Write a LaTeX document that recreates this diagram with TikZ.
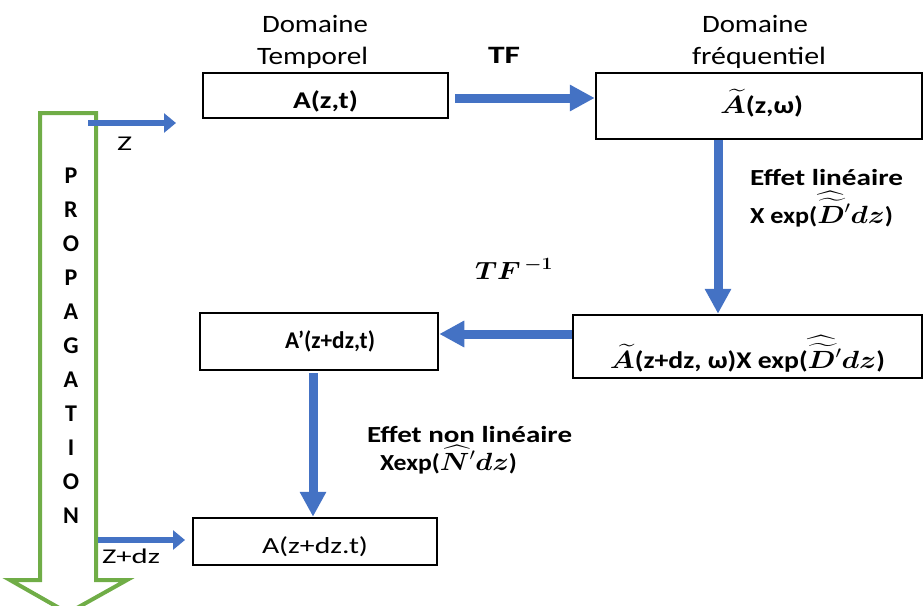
\documentclass[tikz,border=0pt]{standalone}
\usepackage{amsmath,amssymb,bm}
\usepackage{graphicx}
\usepackage{fontspec}
\setmainfont{Carlito}
\usetikzlibrary{arrows.meta}
\definecolor{ablue}{HTML}{4472C4}
\definecolor{agreen}{HTML}{70AD47}
\newcommand{\fw}[2]{\resizebox{#1pt}{\height}{#2}}
\tikzset{
  box/.style={draw=black,line width=2.5pt,inner sep=0pt},
  bigarrow/.style={draw=ablue,line width=9pt,-{Triangle[length=25pt,width=25pt]}},
  smallarrow/.style={draw=ablue,line width=6pt,-{Triangle[length=12pt,width=19pt]}},
  head/.style={anchor=base,inner sep=0pt,font=\fontsize{25}{28}\selectfont},
  btxt/.style={anchor=base,inner sep=0pt,font=\fontsize{24}{28}\selectfont\bfseries},
  rtxt/.style={anchor=base,inner sep=0pt,font=\fontsize{23}{27}\selectfont},
  letter/.style={anchor=base,inner sep=0pt,font=\fontsize{24}{28}\selectfont\bfseries}
}
\begin{document}
\begin{tikzpicture}[x=1pt,y=-1pt]
\useasboundingbox (0,0) rectangle (923,605);
% boxes
\node[box,minimum width=245pt,minimum height=45pt] (b1) at (325.5,95.5) {};
\node[box,minimum width=326pt,minimum height=66pt] (b2) at (759,106) {};
\node[box,minimum width=349pt,minimum height=63pt] (b3) at (747.5,346.5) {};
\node[box,minimum width=238pt,minimum height=57pt] (b4) at (319,341.5) {};
\node[box,minimum width=244pt,minimum height=47pt] (b5) at (315,541.5) {};
% box texts
\node[btxt] (t1) at (325.5,108) {\fw{65}{A(z,t)}};
\node[btxt] (t2) at (761.5,113) {\fw{83}{$\widetilde{\bm{A}}$(z,ω)}};
\node[btxt] (t3) at (747.5,368) {\fw{275}{$\widetilde{\bm{A}}$(z+dz, ω)X exp($\widehat{\widetilde{\bm{D}}}{}^{\prime}\bm{dz}$)}};
\node[btxt] (t4) at (330,348) {\fw{90}{A’(z+dz,t)}};
\node[rtxt] (t5) at (315,553) {\fw{106}{A(z+dz.t)}};
% headings
\node[head] (h1) at (315,32) {\fw{106}{Domaine}};
\node[head] (h2) at (312.5,64) {\fw{111}{Temporel}};
\node[head] (h3) at (755,32) {\fw{106}{Domaine}};
\node[head] (h4) at (759,64) {\fw{134}{fréquentiel}};
\node[btxt,font=\fontsize{25}{28}\selectfont\bfseries] (tf) at (504,63) {\fw{32}{TF}};
\node[btxt,font=\fontsize{26}{30}\selectfont] (tfi) at (514,279) {\fw{78}{$\bm{TF^{\,-1}}$}};
\node[btxt,font=\fontsize{23}{27}\selectfont\bfseries] (e1) at (826.5,185) {\fw{153}{Effet linéaire}};
\node[btxt,font=\fontsize{23}{27}\selectfont\bfseries] (e2) at (821.5,223) {\fw{143}{X exp($\widehat{\widetilde{\bm{D}}}{}^{\prime}\bm{dz}$)}};
\node[btxt,font=\fontsize{23}{27}\selectfont\bfseries] (e3) at (469.5,442) {\fw{205}{Effet non linéaire}};
\node[btxt,font=\fontsize{23}{27}\selectfont\bfseries] (e4) at (448.5,470) {\fw{137}{Xexp($\widehat{\bm{N}}{}^{\prime}\bm{dz}$)}};
% green propagation arrow
\draw[agreen,line width=4pt,line join=miter] (40,113) -- (96,113) -- (96,580) -- (127,580) -- (68,613) -- (10,580) -- (40,580) -- cycle;
\foreach \l [count=\i from 0] in {P,R,O,P,A,G,A,T,I,O,N}
  \node[letter] (p\i) at (71,183+34*\i) {\l};
% z arrows
\coordinate (z0) at (88,123);
\coordinate (z1) at (176,123);
\coordinate (zz0) at (98,540);
\coordinate (zz1) at (185,540);
\draw[smallarrow] (z0) -- (z1);
\draw[smallarrow] (zz0) -- (zz1);
\node[rtxt,font=\fontsize{21}{24}\selectfont] (zl) at (124.5,150) {\fw{15}{Z}};
\node[rtxt,font=\fontsize{21}{24}\selectfont] (zzl) at (131,563) {\fw{58}{Z+dz}};
% blue arrows
\coordinate (a1) at (455,98);
\coordinate (a4) at (313,373);
\draw[bigarrow] (a1) -- (b2.west |- a1);
\draw[bigarrow] (b2.south -| 718,0) -- (b3.north -| 718,0);
\draw[bigarrow] (b3.west |- 0,334) -- (b4.east |- 0,334);
\draw[bigarrow] (a4) -- (b5.north -| a4);
\end{tikzpicture}
\end{document}
